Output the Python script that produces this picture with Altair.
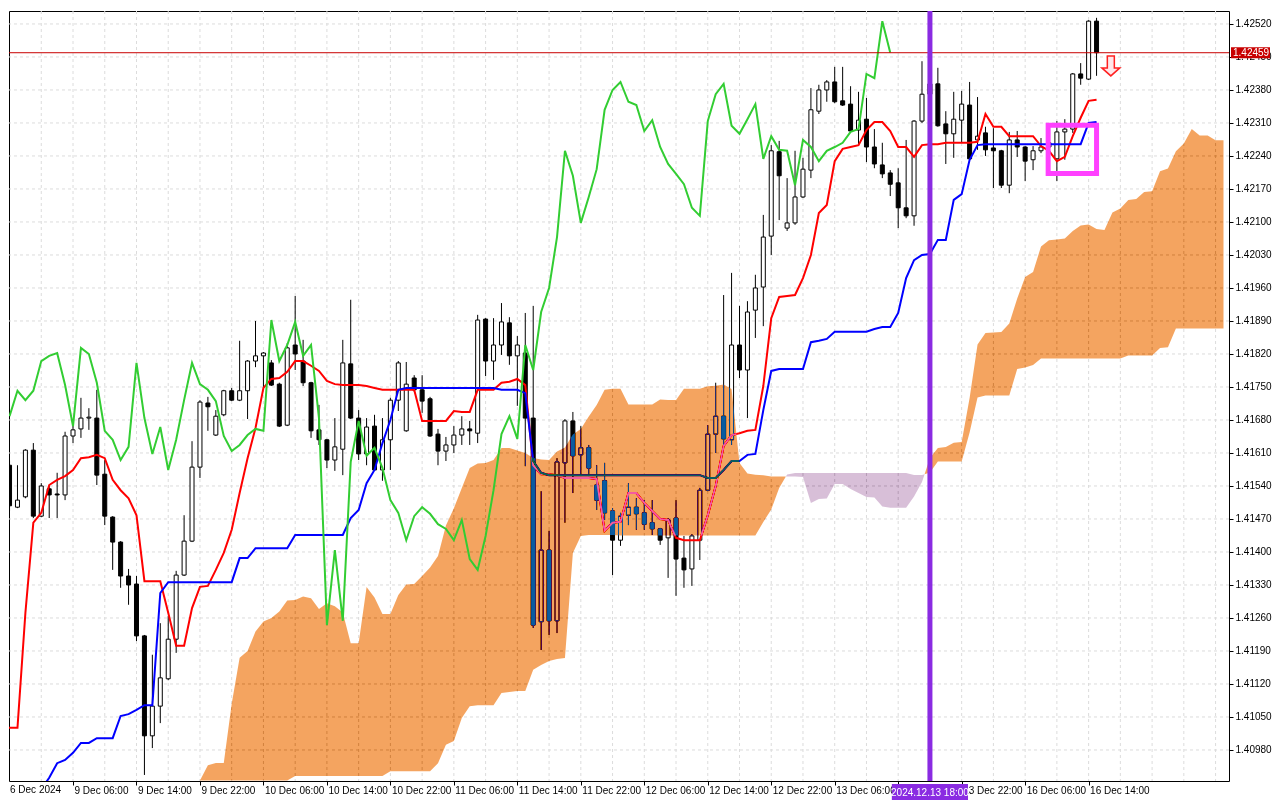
import altair as alt
import pandas as pd

FONT = "Liberation Sans"

# ---------------- data ----------------
x_tick_values = [8, 16, 24, 32, 40, 48, 56, 64, 72, 80, 88, 96, 104, 112, 120, 128, 136]
x_tick_labels = ["9 Dec 06:00", "9 Dec 14:00", "9 Dec 22:00", "10 Dec 06:00", "10 Dec 14:00",
                 "10 Dec 22:00", "11 Dec 06:00", "11 Dec 14:00", "11 Dec 22:00", "12 Dec 06:00",
                 "12 Dec 14:00", "12 Dec 22:00", "13 Dec 06:00", "13 Dec 14:00", "13 Dec 22:00",
                 "16 Dec 06:00", "16 Dec 14:00"]
first_label = "6 Dec 2024"
y_tick_values = [1.40980, 1.41050, 1.41120, 1.41190, 1.41260, 1.41330, 1.41400, 1.41470,
                 1.41540, 1.41610, 1.41680, 1.41750, 1.41820, 1.41890, 1.41960, 1.42030,
                 1.42100, 1.42170, 1.42240, 1.42310, 1.42380, 1.42450, 1.42520]

open_ = [1.41584, 1.41495, 1.41517, 1.41616, 1.41476, 1.41534, 1.41523, 1.41521, 1.41646, 1.41661,
         1.41684, 1.41684, 1.41565, 1.41474, 1.41421, 1.41349, 1.41332, 1.41222, 1.41010, 1.41073,
         1.41131, 1.41215, 1.41351, 1.41423, 1.41580, 1.41716, 1.41648, 1.41691, 1.41742, 1.41722,
         1.41742, 1.41805, 1.41816, 1.41801, 1.41756, 1.41669, 1.41839, 1.41805, 1.41759, 1.41659,
         1.41638, 1.41595, 1.41618, 1.41799, 1.41684, 1.41608, 1.41667, 1.41574, 1.41638, 1.41722,
         1.41657, 1.41769, 1.41744, 1.41725, 1.41650, 1.41614, 1.41627, 1.41648, 1.41661, 1.41652,
         1.41894, 1.41805, 1.41839, 1.41886, 1.41816, 1.41822, 1.41684, 1.41252, 1.41404, 1.41254,
         1.41589, 1.41678, 1.41606, 1.41621, 1.41542, 1.41551, 1.41487, 1.41425, 1.41478, 1.41495,
         1.41483, 1.41462, 1.41449, 1.41430, 1.41472, 1.41387, 1.41364, 1.41425, 1.41531, 1.41650,
         1.41688, 1.41638, 1.41839, 1.41786, 1.41913, 1.41962, 1.42070, 1.42249, 1.42087, 1.42098,
         1.42153, 1.42210, 1.42335, 1.42380, 1.42397, 1.42357, 1.42350, 1.42295, 1.42318, 1.42259,
         1.42221, 1.42204, 1.42183, 1.42130, 1.42113, 1.42314, 1.42371, 1.42393, 1.42308, 1.42287,
         1.42316, 1.42348, 1.42274, 1.42289, 1.42257, 1.42251, 1.42178, 1.42274, 1.42259, 1.42232,
         1.42251, 1.42259, 1.42234, 1.42291, 1.42297, 1.42414, 1.42403, 1.42526]
high = [1.41593, 1.41584, 1.41618, 1.41631, 1.41546, 1.41540, 1.41568, 1.41655, 1.41669, 1.41727,
        1.41705, 1.41744, 1.41595, 1.41476, 1.41423, 1.41364, 1.41349, 1.41224, 1.41182, 1.41249,
        1.41264, 1.41360, 1.41478, 1.41635, 1.41722, 1.41729, 1.41701, 1.41744, 1.41748, 1.41848,
        1.41807, 1.41890, 1.41824, 1.41807, 1.41759, 1.41843, 1.41943, 1.41850, 1.41761, 1.41712,
        1.41640, 1.41684, 1.41850, 1.41935, 1.41701, 1.41684, 1.41691, 1.41684, 1.41727, 1.41805,
        1.41803, 1.41775, 1.41775, 1.41729, 1.41661, 1.41644, 1.41667, 1.41688, 1.41678, 1.41903,
        1.41896, 1.41896, 1.41928, 1.41898, 1.41858, 1.41907, 1.41922, 1.41529, 1.41445, 1.41599,
        1.41682, 1.41697, 1.41667, 1.41627, 1.41584, 1.41589, 1.41493, 1.41483, 1.41546, 1.41514,
        1.41510, 1.41510, 1.41451, 1.41472, 1.41510, 1.41434, 1.41438, 1.41536, 1.41669, 1.41759,
        1.41945, 1.41992, 1.41922, 1.41932, 1.41988, 1.42115, 1.42263, 1.42272, 1.42193, 1.42251,
        1.42236, 1.42384, 1.42391, 1.42401, 1.42429, 1.42429, 1.42388, 1.42376, 1.42363, 1.42297,
        1.42268, 1.42210, 1.42214, 1.42274, 1.42316, 1.42441, 1.42437, 1.42427, 1.42335, 1.42376,
        1.42378, 1.42397, 1.42365, 1.42302, 1.42299, 1.42253, 1.42291, 1.42293, 1.42261, 1.42261,
        1.42278, 1.42289, 1.42314, 1.42318, 1.42416, 1.42437, 1.42528, 1.42533]
low = [1.41487, 1.41493, 1.41514, 1.41472, 1.41474, 1.41472, 1.41472, 1.41510, 1.41631, 1.41642,
       1.41659, 1.41542, 1.41457, 1.41362, 1.41324, 1.41288, 1.41211, 1.40927, 1.40984, 1.41037,
       1.41128, 1.41186, 1.41349, 1.41421, 1.41557, 1.41657, 1.41646, 1.41688, 1.41720, 1.41720,
       1.41682, 1.41792, 1.41748, 1.41752, 1.41665, 1.41667, 1.41786, 1.41752, 1.41642, 1.41627,
       1.41578, 1.41572, 1.41563, 1.41682, 1.41595, 1.41584, 1.41572, 1.41551, 1.41574, 1.41699,
       1.41655, 1.41740, 1.41695, 1.41644, 1.41584, 1.41593, 1.41610, 1.41627, 1.41627, 1.41631,
       1.41773, 1.41765, 1.41818, 1.41797, 1.41710, 1.41582, 1.41239, 1.41192, 1.41224, 1.41228,
       1.41462, 1.41525, 1.41561, 1.41561, 1.41489, 1.41468, 1.41351, 1.41413, 1.41457, 1.41447,
       1.41447, 1.41436, 1.41415, 1.41345, 1.41307, 1.41324, 1.41328, 1.41383, 1.41529, 1.41610,
       1.41627, 1.41627, 1.41769, 1.41684, 1.41854, 1.41879, 1.42030, 1.42104, 1.42081, 1.42094,
       1.42151, 1.42193, 1.42329, 1.42355, 1.42352, 1.42346, 1.42291, 1.42263, 1.42227, 1.42214,
       1.42193, 1.42155, 1.42087, 1.42108, 1.42092, 1.42310, 1.42352, 1.42302, 1.42223, 1.42236,
       1.42268, 1.42232, 1.42253, 1.42240, 1.42172, 1.42172, 1.42161, 1.42238, 1.42187, 1.42210,
       1.42246, 1.42225, 1.42187, 1.42232, 1.42289, 1.42391, 1.42401, 1.42410]
close = [1.41498, 1.41510, 1.41616, 1.41476, 1.41540, 1.41521, 1.41521, 1.41646, 1.41659, 1.41684,
         1.41686, 1.41563, 1.41476, 1.41421, 1.41349, 1.41330, 1.41222, 1.41010, 1.41073, 1.41133,
         1.41215, 1.41351, 1.41423, 1.41580, 1.41718, 1.41708, 1.41688, 1.41742, 1.41722, 1.41742,
         1.41805, 1.41816, 1.41822, 1.41754, 1.41667, 1.41833, 1.41820, 1.41759, 1.41657, 1.41638,
         1.41595, 1.41623, 1.41801, 1.41684, 1.41608, 1.41665, 1.41574, 1.41638, 1.41722, 1.41801,
         1.41756, 1.41744, 1.41720, 1.41646, 1.41614, 1.41627, 1.41648, 1.41661, 1.41657, 1.41892,
         1.41805, 1.41839, 1.41888, 1.41816, 1.41839, 1.41684, 1.41245, 1.41404, 1.41254, 1.41591,
         1.41678, 1.41604, 1.41621, 1.41578, 1.41510, 1.41483, 1.41425, 1.41476, 1.41495, 1.41481,
         1.41459, 1.41449, 1.41425, 1.41468, 1.41385, 1.41362, 1.41434, 1.41531, 1.41650, 1.41688,
         1.41640, 1.41839, 1.41786, 1.41909, 1.41960, 1.42068, 1.42251, 1.42198, 1.42098, 1.42153,
         1.42212, 1.42338, 1.42380, 1.42397, 1.42355, 1.42348, 1.42293, 1.42316, 1.42259, 1.42223,
         1.42202, 1.42180, 1.42130, 1.42113, 1.42314, 1.42371, 1.42393, 1.42304, 1.42287, 1.42318,
         1.42350, 1.42234, 1.42282, 1.42253, 1.42251, 1.42178, 1.42274, 1.42259, 1.42229, 1.42251,
         1.42259, 1.42268, 1.42291, 1.42297, 1.42414, 1.42405, 1.42526, 1.42459]

# Tenkan-sen and Kijun-sen, bars -2 .. 137
tenkan = [1.40995, 1.41027, 1.41027, 1.41027, 1.41271, 1.41462, 1.41483, 1.41542, 1.41553, 1.41561,
          1.41574, 1.41599, 1.41601, 1.41606, 1.41599, 1.41553, 1.41531, 1.41514, 1.41478, 1.41338,
          1.41338, 1.41338, 1.41271, 1.41201, 1.41201, 1.41281, 1.41326, 1.41328, 1.41362, 1.41398,
          1.41447, 1.41525, 1.41599, 1.41663, 1.41748, 1.41767, 1.41769, 1.41782, 1.41805, 1.41805,
          1.41795, 1.41784, 1.41763, 1.41756, 1.41754, 1.41754, 1.41754, 1.41752, 1.41748, 1.41744,
          1.41744, 1.41744, 1.41744, 1.41744, 1.41678, 1.41678, 1.41678, 1.41678, 1.41699, 1.41697,
          1.41697, 1.41744, 1.41744, 1.41744, 1.41759, 1.41761, 1.41767, 1.41754, 1.41584, 1.41565,
          1.41565, 1.41563, 1.41557, 1.41557, 1.41557, 1.41557, 1.41555, 1.41445, 1.41462, 1.41464,
          1.41525, 1.41525, 1.41504, 1.41487, 1.41470, 1.41468, 1.41430, 1.41425, 1.41425, 1.41425,
          1.41478, 1.41540, 1.41625, 1.41648, 1.41652, 1.41657, 1.41659, 1.41752, 1.41896, 1.41941,
          1.41943, 1.41945, 1.41981, 1.42030, 1.42119, 1.42136, 1.42229, 1.42255, 1.42259, 1.42263,
          1.42295, 1.42312, 1.42312, 1.42293, 1.42259, 1.42259, 1.42238, 1.42263, 1.42265, 1.42265,
          1.42268, 1.42268, 1.42268, 1.42268, 1.42270, 1.42329, 1.42302, 1.42302, 1.42282, 1.42282,
          1.42282, 1.42282, 1.42261, 1.42251, 1.42229, 1.42238, 1.42282, 1.42321, 1.42357, 1.42359]
kijun = [1.40804, 1.40868, 1.40878, 1.40878, 1.40885, 1.40889, 1.40897, 1.40921, 1.40952, 1.40959,
         1.40974, 1.40995, 1.40995, 1.41005, 1.41005, 1.41005, 1.41052, 1.41056, 1.41065, 1.41075,
         1.41075, 1.41313, 1.41336, 1.41336, 1.41336, 1.41336, 1.41336, 1.41336, 1.41336, 1.41336,
         1.41336, 1.41387, 1.41387, 1.41408, 1.41408, 1.41408, 1.41408, 1.41408, 1.41436, 1.41436,
         1.41436, 1.41436, 1.41436, 1.41436, 1.41436, 1.41472, 1.41489, 1.41546, 1.41574, 1.41631,
         1.41680, 1.41744, 1.41748, 1.41748, 1.41748, 1.41748, 1.41748, 1.41748, 1.41748, 1.41748,
         1.41748, 1.41748, 1.41748, 1.41748, 1.41744, 1.41744, 1.41744, 1.41737, 1.41593, 1.41568,
         1.41563, 1.41563, 1.41563, 1.41563, 1.41563, 1.41563, 1.41563, 1.41563, 1.41563, 1.41563,
         1.41563, 1.41563, 1.41563, 1.41563, 1.41563, 1.41563, 1.41563, 1.41563, 1.41563, 1.41563,
         1.41557, 1.41557, 1.41574, 1.41593, 1.41593, 1.41606, 1.41608, 1.41701, 1.41784, 1.41788,
         1.41788, 1.41788, 1.41788, 1.41845, 1.41848, 1.41852, 1.41867, 1.41867, 1.41867, 1.41867,
         1.41867, 1.41873, 1.41877, 1.41877, 1.41907, 1.41981, 1.42019, 1.42030, 1.42032, 1.42062,
         1.42062, 1.42147, 1.42159, 1.42232, 1.42263, 1.42265, 1.42265, 1.42265, 1.42265, 1.42265,
         1.42265, 1.42265, 1.42265, 1.42265, 1.42265, 1.42265, 1.42265, 1.42265, 1.42310, 1.42312]
# Senkou Span B as read for display bars 24 .. 76 (its 52-bar window starts before the first visible bar)
senkou_b_early = [1.40889, 1.40889, 1.40889, 1.40889, 1.40889, 1.40889, 1.40889, 1.40889, 1.40889, 1.40889,
                  1.40889, 1.40889, 1.40925, 1.40925, 1.40925, 1.40925, 1.40925, 1.40925, 1.40925, 1.40925,
                  1.40925, 1.40925, 1.40925, 1.40925, 1.40935, 1.40935, 1.40935, 1.40935, 1.40935, 1.40935,
                  1.40952, 1.40991, 1.40999, 1.41048, 1.41073, 1.41075, 1.41075, 1.41075, 1.41101, 1.41103,
                  1.41105, 1.41105, 1.41150, 1.41160, 1.41169, 1.41173, 1.41175, 1.41398, 1.41434, 1.41436,
                  1.41436, 1.41436, 1.41436]

current_price = 1.42459
current_label = "1.42459"
marker_bar = 116
marker_label = "2024.12.13 18:00"
box_bars = [130.9, 137.0]
box_prices = [1.42203, 1.42305]
arrow_bar = 138.8
arrow_price = 1.42431

# ---------------- layout constants ----------------
W, H = 1220, 770
X0, X1 = 0.5625, 153.0625
Y0, Y1 = 1.409142, 1.425475
CLOUD_X_END = 153.0
KUMO_SHIFT = 26

bars = list(range(len(open_)))
line_bars = list(range(-2, len(open_)))

candles = pd.DataFrame({"bar": bars, "open": open_, "high": high, "low": low, "close": close})
candles["fc"] = ["white" if c >= o else "black" for o, c in zip(open_, close)]
lines = pd.DataFrame({"bar": line_bars, "tenkan": tenkan, "kijun": kijun})
chikou = pd.DataFrame({"bar": bars[:-KUMO_SHIFT], "chikou": close[KUMO_SHIFT:]})

# Senkou spans (displayed 26 bars ahead)
span_x = [b + KUMO_SHIFT for b in line_bars]
span_a = [(t + k) / 2 for t, k in zip(tenkan, kijun)]
span_b = list(senkou_b_early)
for d in range(77, line_bars[-1] + KUMO_SHIFT + 1):
    span_b.append((max(high[d - 77:d - 25]) + min(low[d - 77:d - 25])) / 2)

pts = []
for j in range(len(span_x)):
    if j:
        x0, a0, b0 = span_x[j - 1], span_a[j - 1], span_b[j - 1]
        x1, a1, b1 = span_x[j], span_a[j], span_b[j]
        d0, d1 = a0 - b0, a1 - b1
        if d0 * d1 < 0:
            t = d0 / (d0 - d1)
            v = a0 + t * (a1 - a0)
            pts.append((x0 + t * (x1 - x0), v, v))
    pts.append((span_x[j], span_a[j], span_b[j]))
cut = []
for j, p in enumerate(pts):
    if p[0] <= CLOUD_X_END:
        cut.append(p)
    else:
        q = pts[j - 1]
        t = (CLOUD_X_END - q[0]) / (p[0] - q[0])
        cut.append((CLOUD_X_END, q[1] + t * (p[1] - q[1]), q[2] + t * (p[2] - q[2])))
        break
lo_lim = Y0 + 0.6 * (Y1 - Y0) / H


def cl(v):
    return min(max(v, lo_lim), Y1)


orange = pd.DataFrame([{"x": x, "top": cl(a), "bot": cl(b if a >= b else a)} for x, a, b in cut])
thistle = pd.DataFrame([{"x": x, "top": cl(b), "bot": cl(a if b > a else b)} for x, a, b in cut])

# ---------------- scales / axes ----------------
xscale = alt.Scale(domain=[X0, X1], nice=False, zero=False)
yscale = alt.Scale(domain=[Y0, Y1], nice=False, zero=False)
label_expr = "[" + ",".join("'%s'" % s for s in x_tick_labels) + "][round(datum.value / 8) - 1]"
x_axis = alt.Axis(values=x_tick_values, labelExpr=label_expr, orient="bottom", grid=False, domain=False,
                  tickSize=4, tickColor="black", labelAlign="left", labelPadding=0, labelOffset=1,
                  labelFont=FONT, labelFontSize=10, labelColor="black", labelOverlap=False,
                  labelFlush=False, labelBound=False, title=None)
y_axis = alt.Axis(values=y_tick_values, format=".5f", orient="right", grid=False, domain=False,
                  tickSize=4, tickColor="black", labelPadding=2, labelFont=FONT, labelFontSize=10,
                  labelColor="black", labelOverlap=False, labelFlush=False, title=None)


def X(f):
    return alt.X(f + ":Q", scale=xscale, axis=x_axis)


def Y(f):
    return alt.Y(f + ":Q", scale=yscale, axis=y_axis)


GRID = "#dcdcdc"
grid_v = alt.Chart(pd.DataFrame({"gx": list(range(4, 153, 4))})).mark_rule(
    color=GRID, strokeWidth=1, strokeDash=[3, 3]).encode(x=X("gx"))
grid_h = alt.Chart(pd.DataFrame({"gy": y_tick_values})).mark_rule(
    color=GRID, strokeWidth=1, strokeDash=[3, 3]).encode(y=Y("gy"))

wick = alt.Chart(candles).mark_rule(color="black", strokeWidth=1, clip=True).encode(
    x=X("bar"), y=Y("low"), y2="high")
body = alt.Chart(candles).mark_bar(size=4, stroke="black", strokeWidth=1, clip=True).encode(
    x=X("bar"), y=Y("open"), y2="close", fill=alt.Fill("fc:N", scale=None))

tenkan_l = alt.Chart(lines).mark_line(color="#ff0000", strokeWidth=2, clip=True).encode(
    x=X("bar"), y=Y("tenkan"))
kijun_l = alt.Chart(lines).mark_line(color="#0000ff", strokeWidth=2, clip=True).encode(
    x=X("bar"), y=Y("kijun"))

# cloud drawn with a difference blend, like MetaTrader's XOR histogram
kumo_up = alt.Chart(orange).mark_area(color="#0b5b9f", blend="difference", opacity=1).encode(
    x=X("x"), y=Y("top"), y2="bot")
kumo_dn = alt.Chart(thistle).mark_area(color="#274027", blend="difference", opacity=1).encode(
    x=X("x"), y=Y("top"), y2="bot")

chikou_l = alt.Chart(chikou).mark_line(color="#32cd32", strokeWidth=2, clip=True).encode(
    x=X("bar"), y=Y("chikou"))

price_line = alt.Chart(pd.DataFrame({"p": [current_price]})).mark_rule(
    color="#c80000", strokeWidth=1).encode(y=Y("p"))
vline = alt.Chart(pd.DataFrame({"v": [marker_bar]})).mark_rule(
    color="#8a2be2", strokeWidth=5).encode(x=X("v"))
box = alt.Chart(pd.DataFrame({"x1": [box_bars[0]], "x2": [box_bars[1]],
                              "y1": [box_prices[0]], "y2": [box_prices[1]]})).mark_rect(
    fillOpacity=0, stroke="#ff40ff", strokeWidth=5).encode(x=X("x1"), x2="x2", y=Y("y1"), y2="y2")
ARROW = "M-0.35,-1L0.35,-1L0.35,0.2L0.9,0.2L0,1L-0.9,0.2L-0.35,0.2Z"
arrow = alt.Chart(pd.DataFrame({"ax": [arrow_bar], "ay": [arrow_price]})).mark_point(
    shape=ARROW, size=400, filled=True, fill="#ffe6ea", stroke="#ff2020", strokeWidth=1.5,
    opacity=1).encode(x=X("ax"), y=Y("ay"))

TAG_HALF = 0.000115
ptag = pd.DataFrame({"p": [current_price], "t1": [current_price + TAG_HALF],
                     "t2": [current_price - TAG_HALF], "label": [current_label]})
ptag_rect = alt.Chart(ptag).mark_rect(color="#c80000").encode(
    x=alt.value(1222), x2=alt.value(1261), y=Y("t1"), y2="t2")
ptag_text = alt.Chart(ptag).mark_text(color="white", font=FONT, fontSize=10, align="left",
                                      baseline="middle").encode(
    x=alt.value(1224), y=Y("p"), text="label:N")

dtag = pd.DataFrame({"d": [marker_bar], "d1": [marker_bar - 4.8], "d2": [marker_bar + 4.8],
                     "label": [marker_label]})
dtag_rect = alt.Chart(dtag).mark_rect(color="#8a2be2").encode(
    x=X("d1"), x2="d2", y=alt.value(773), y2=alt.value(789))
dtag_text = alt.Chart(dtag).mark_text(color="white", font=FONT, fontSize=10, align="center",
                                      baseline="middle").encode(
    x=X("d"), y=alt.value(781.5), text="label:N")

first = alt.Chart(pd.DataFrame({"t": [first_label]})).mark_text(
    color="black", font=FONT, fontSize=10, align="left", baseline="top").encode(
    x=alt.value(1), y=alt.value(774), text="t:N")

chart = alt.layer(
    grid_v, grid_h, wick, body, tenkan_l, kijun_l, kumo_up, kumo_dn, chikou_l,
    price_line, vline, box, arrow, ptag_rect, ptag_text, dtag_rect, dtag_text, first
).properties(width=W, height=H, padding=0, background="white").configure_view(
    stroke="black", strokeWidth=1)

chart.save("out.html", embed_options={"renderer": "svg", "actions": False})
